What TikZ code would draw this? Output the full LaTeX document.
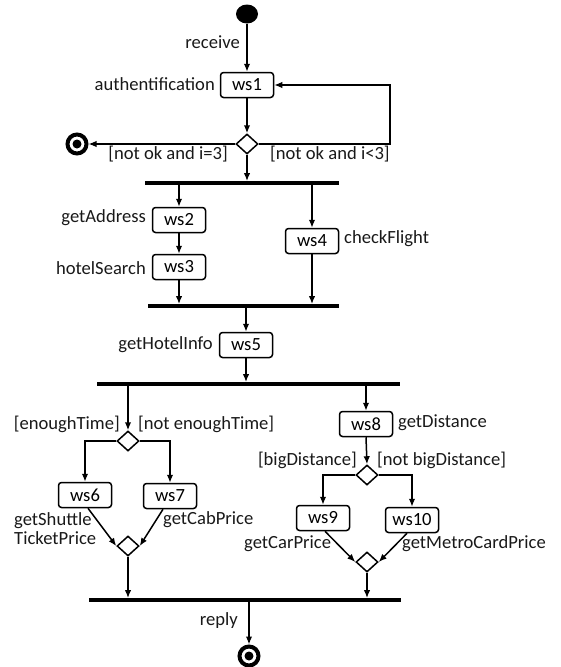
\documentclass[tikz,border=0pt]{standalone}
\usepackage{fontspec}
\setmainfont{Carlito}
\usetikzlibrary{shapes.geometric,arrows.meta}
\begin{document}
\begin{tikzpicture}[x=1pt,y=-1pt,
  lab/.style={inner sep=0pt, font=\fontsize{18.6}{19}\selectfont, text=black!90},
  act/.style={draw, rounded corners=3pt, line width=1.5pt, minimum width=53pt, minimum height=25pt, inner sep=0pt, font=\fontsize{18.6}{19}\selectfont},
  dec/.style={draw, diamond, line width=1.5pt, inner sep=0pt, minimum width=22pt, minimum height=20pt},
  barnode/.style={fill=black, inner sep=0pt, minimum height=3.5pt},
  flow/.style={line width=1.5pt, -{Latex[length=8pt,width=6.5pt]}},
  endnode/.style={circle, draw, line width=4pt, minimum size=19pt, inner sep=0pt,
    path picture={\fill (path picture bounding box.center) circle (4.5pt);}}
]
\useasboundingbox (0,0) rectangle (561,667);
% start
\node[ellipse, fill=black, minimum width=22pt, minimum height=19pt, inner sep=0pt] (start) at (247,14) {};
\node[act] (ws1) at (247,85) {ws1};
\node[dec] (d1) at (247,144) {};
\node[endnode] (fin1) at (77,144) {};
\node[barnode, minimum width=194pt] (bar1) at (242,183) {};
\node[act] (ws2) at (179,220) {ws2};
\node[act] (ws3) at (179,267) {ws3};
\node[act] (ws4) at (312,241) {ws4};
\node[barnode, minimum width=191pt] (bar2) at (243.5,306) {};
\node[act] (ws5) at (246,345) {ws5};
\node[barnode, minimum width=303pt] (bar3) at (248.5,384) {};
\node[dec] (d2) at (128,441) {};
\node[act] (ws6) at (85,495) {ws6};
\node[act] (ws7) at (170,496) {ws7};
\node[dec] (d2m) at (128,546) {};
\node[act] (ws8) at (366,424) {ws8};
\node[dec] (d3) at (367,475) {};
\node[act] (ws9) at (323,518) {ws9};
\node[act] (ws10) at (412,520) {ws10};
\node[dec] (d3m) at (367,562) {};
\node[barnode, minimum width=312pt] (bar4) at (245,600) {};
\node[endnode] (fin2) at (249,656) {};
\coordinate (loop) at (390,85);

% labels
\node[lab, anchor=east] (lreceive) at (240,42) {receive};
\node[lab, anchor=east] (lauth) at (215,84) {authentification};
\node[lab, anchor=east] (lnok3) at (228,154) {[not ok and i=3]};
\node[lab, anchor=west] (lnokl3) at (270,154) {[not ok and i<3]};
\node[lab, anchor=east] (laddr) at (146,218) {getAddress};
\node[lab, anchor=east] (lhotel) at (146,268) {hotelSearch};
\node[lab, anchor=west] (lflight) at (344,239) {checkFlight};
\node[lab, anchor=east] (linfo) at (213,345) {getHotelInfo};
\node[lab, anchor=east] (lenough) at (120,424) {[enoughTime]};
\node[lab, anchor=west] (lnenough) at (138,424) {[not enoughTime]};
\node[lab, anchor=west, align=left] (lshuttle) at (14,529) {getShuttle\\TicketPrice};
\node[lab, anchor=west] (lcab) at (163,520) {getCabPrice};
\node[lab, anchor=west] (ldist) at (398,423) {getDistance};
\node[lab, anchor=east] (lbig) at (357,460) {[bigDistance]};
\node[lab, anchor=west] (lnbig) at (377,460) {[not bigDistance]};
\node[lab, anchor=west] (lcar) at (244,544) {getCarPrice};
\node[lab, anchor=west] (lmetro) at (402,544) {getMetroCardPrice};
\node[lab, anchor=east] (lreply) at (238,621) {reply};

% connectors
\draw[flow] (start.south) -- (ws1.north);
\draw[flow] (ws1.south) -- (d1.north);
\draw[flow] (d1.east) -| (loop) -- (ws1.east);
\draw[flow] (d1.west) -- (fin1.east);
\draw[flow] (d1.south) -- (d1 |- bar1.north);
\draw[flow] (ws2 |- bar1.south) -- (ws2.north);
\draw[flow] (ws2.south) -- (ws3.north);
\draw[flow] (ws3.south) -- (ws3 |- bar2.north);
\draw[flow] (ws4 |- bar1.south) -- (ws4.north);
\draw[flow] (ws4.south) -- (ws4 |- bar2.north);
\draw[flow] (ws5 |- bar2.south) -- (ws5.north);
\draw[flow] (ws5.south) -- (ws5 |- bar3.north);
\draw[flow] (d2 |- bar3.south) -- (d2.north);
\draw[flow] (d2.west) -| (ws6.north);
\draw[flow] (d2.east) -| (ws7.north);
\draw[flow] ([xshift=3pt]ws6.south) -- (d2m.west);
\draw[flow] ([xshift=-7pt]ws7.south) -- (d2m.east);
\draw[flow] (d2m.south) -- (d2m |- bar4.north);
\draw[flow] (ws8 |- bar3.south) -- (ws8.north);
\draw[flow] (ws8.south) -- (d3.north);
\draw[flow] (d3.west) -| (ws9.north);
\draw[flow] (d3.east) -| (ws10.north);
\draw[flow] ([xshift=2pt]ws9.south) -- (d3m.west);
\draw[flow] ([xshift=-5pt]ws10.south) -- (d3m.east);
\draw[flow] (d3m.south) -- (d3m |- bar4.north);
\draw[flow] (fin2 |- bar4.south) -- (fin2.north);
\end{tikzpicture}
\end{document}
